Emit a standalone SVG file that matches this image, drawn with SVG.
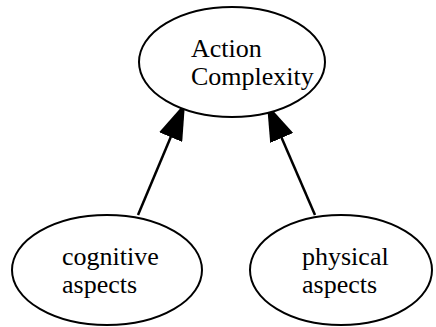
<svg xmlns="http://www.w3.org/2000/svg" width="436" height="327" viewBox="0 0 436 327">
<style>
.node ellipse{fill:#fff;stroke:#000;stroke-width:2}
.node text{font-family:"Liberation Serif","Times New Roman",serif;font-size:26px;fill:#000}
.edge{stroke:#000;stroke-width:2.5;fill:none}
</style>
<defs>
<marker id="arr" viewBox="0 0 37 25" refX="7" refY="12.5" markerWidth="37" markerHeight="25" markerUnits="userSpaceOnUse" orient="auto">
<path d="M0,0 L37,12.5 L0,25 z" fill="#000"/>
</marker>
</defs>
<g id="connectors">
<path class="edge" d="M138,215 L173.4,130.7" marker-end="url(#arr)"/>
<path class="edge" d="M315,215 L278.9,131.5" marker-end="url(#arr)"/>
</g>
<g id="action-complexity" class="node">
<ellipse cx="232" cy="62" rx="93" ry="55"/>
<text x="191" y="57">Action</text>
<text x="191" y="85">Complexity</text>
</g>
<g id="cognitive-aspects" class="node">
<ellipse cx="107" cy="270" rx="95" ry="55"/>
<text x="62" y="265">cognitive</text>
<text x="62" y="293">aspects</text>
</g>
<g id="physical-aspects" class="node">
<ellipse cx="341" cy="270" rx="91" ry="55"/>
<text x="302" y="265">physical</text>
<text x="302" y="293">aspects</text>
</g>
</svg>
